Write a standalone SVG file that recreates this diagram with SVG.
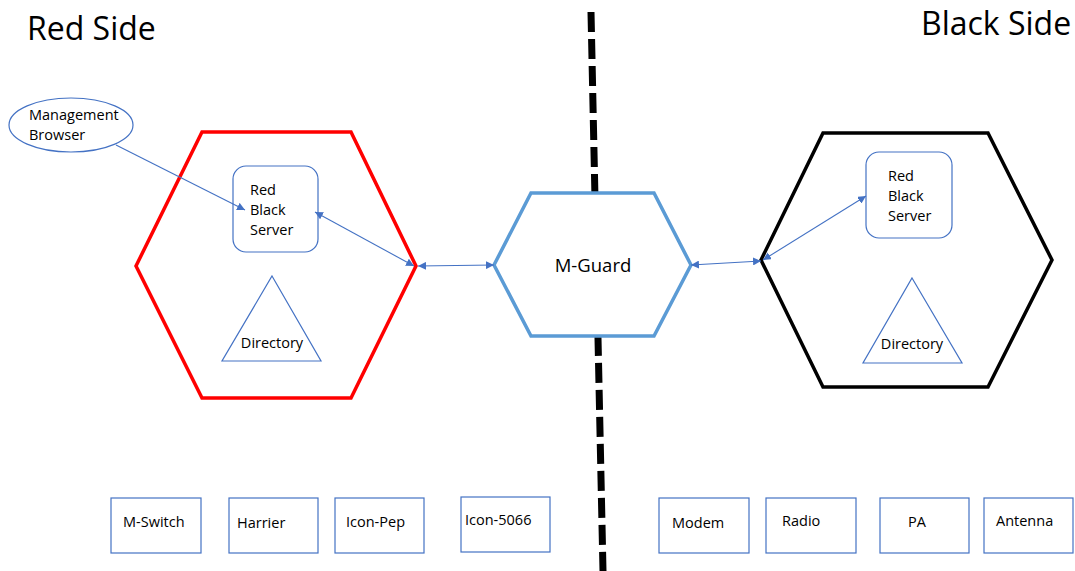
<svg xmlns="http://www.w3.org/2000/svg" width="1075" height="571" viewBox="0 0 1075 571">
<defs>
<marker id="ah" viewBox="0 0 10 10" refX="10" refY="5" markerWidth="8" markerHeight="8" markerUnits="userSpaceOnUse" orient="auto-start-reverse">
<path d="M0,0 L10,5 L0,10 z" fill="#4472C4"/>
</marker>
<style>
text{font-family:"Open Sans","Liberation Sans",sans-serif;fill:#000;}
.t{font-size:14.5px;}
.title{font-size:32px;}
.thin{fill:#fff;stroke:#4472C4;stroke-width:1.2;}
.box{fill:#fff;stroke:#4472C4;stroke-width:1.2;}
.conn{fill:none;stroke:#4472C4;stroke-width:1.1;}
</style>
</defs>
<rect width="1075" height="571" fill="#fff"/>
<g id="divider">
<line x1="591" y1="12" x2="603" y2="571" stroke="#000" stroke-width="7" stroke-dasharray="20 7"/>
</g>
<g id="titles">
<text class="title" x="27" y="40">Red Side</text>
<text class="title" x="921" y="35">Black Side</text>
</g>
<g id="red-side">
<polygon points="202,132 351,132 416,266 351,398 202,398 136,266" fill="#fff" stroke="#FF0000" stroke-width="3.5"/>
</g>
<g id="red-server">
<rect class="box" x="233" y="166" width="85" height="86" rx="13"/>
<text class="t" x="250" y="195">Red</text>
<text class="t" x="250" y="215">Black</text>
<text class="t" x="250" y="235">Server</text>
</g>
<g id="red-directory">
<polygon class="thin" points="272,276 321,361 222,361"/>
<text class="t" x="272" y="348" text-anchor="middle">Directory</text>
</g>
<g id="management-browser">
<ellipse class="thin" cx="71" cy="125" rx="62" ry="27"/>
<text class="t" x="29" y="120">Management</text>
<text class="t" x="29" y="140">Browser</text>
</g>
<g id="m-guard">
<polygon points="531,193 654,193 691,265 654,336 531,336 494,265" fill="#fff" stroke="#5B9BD5" stroke-width="3.5"/>
<text x="593" y="272" font-size="18.5" text-anchor="middle">M-Guard</text>
</g>
<g id="black-side">
<polygon points="823,133 988,133 1052,260 988,387 823,387 761,260" fill="#fff" stroke="#000" stroke-width="3.5"/>
</g>
<g id="black-server">
<rect class="box" x="866" y="152" width="86" height="86" rx="13"/>
<text class="t" x="888" y="181">Red</text>
<text class="t" x="888" y="201">Black</text>
<text class="t" x="888" y="221">Server</text>
</g>
<g id="black-directory">
<polygon class="thin" points="912,278 962,363 863,363"/>
<text class="t" x="912" y="349" text-anchor="middle">Directory</text>
</g>
<g id="m-switch"><rect class="box" x="111" y="498" width="90" height="55"/><text class="t" x="123" y="527">M-Switch</text></g>
<g id="harrier"><rect class="box" x="229" y="498" width="89" height="55"/><text class="t" x="237" y="528">Harrier</text></g>
<g id="icon-pep"><rect class="box" x="335" y="498" width="89" height="55"/><text class="t" x="346" y="527">Icon-Pep</text></g>
<g id="icon-5066"><rect class="box" x="461" y="497" width="89" height="55"/><text class="t" x="465" y="525">Icon-5066</text></g>
<g id="modem"><rect class="box" x="659" y="498" width="90" height="55"/><text class="t" x="672" y="528">Modem</text></g>
<g id="radio"><rect class="box" x="766" y="498" width="90" height="55"/><text class="t" x="782" y="526">Radio</text></g>
<g id="pa"><rect class="box" x="880" y="498" width="89" height="55"/><text class="t" x="908" y="527">PA</text></g>
<g id="antenna"><rect class="box" x="984" y="498" width="89" height="55"/><text class="t" x="996" y="526">Antenna</text></g>
<g id="connectors">
<line class="conn" x1="116" y1="145" x2="245" y2="210" marker-end="url(#ah)"/>
<line class="conn" x1="315" y1="212" x2="414" y2="266" marker-start="url(#ah)" marker-end="url(#ah)"/>
<line class="conn" x1="418" y1="266" x2="494" y2="265" marker-start="url(#ah)" marker-end="url(#ah)"/>
<line class="conn" x1="691" y1="265" x2="761" y2="261" marker-start="url(#ah)" marker-end="url(#ah)"/>
<line class="conn" x1="763" y1="260" x2="866" y2="196" marker-start="url(#ah)" marker-end="url(#ah)"/>
</g>
</svg>
